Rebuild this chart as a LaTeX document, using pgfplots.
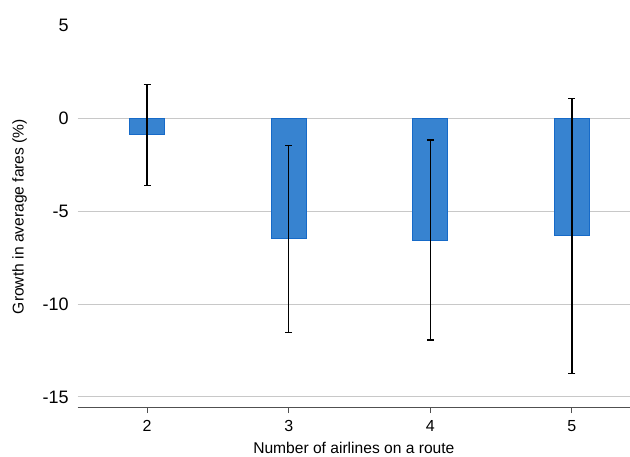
\documentclass[border=0pt]{standalone}
\usepackage{pgfplots}
\pgfplotsset{compat=1.18}
\usepackage{fontspec}
\setmainfont{Liberation Sans}
\definecolor{barfill}{RGB}{55,131,208}
\definecolor{barline}{RGB}{22,106,200}
\definecolor{gridc}{RGB}{200,200,200}
\definecolor{axc}{RGB}{80,80,80}
\begin{document}
\begin{tikzpicture}
\begin{axis}[
  scale only axis,
  width=552.3pt, height=382.4pt,
  xmin=1.51, xmax=5.41,
  ymin=-15.58, ymax=5,
  axis x line*=bottom,
  axis y line*=left,
  x axis line style={draw=axc, line width=0.9pt, -},
  y axis line style={draw=none},
  xtick={2,3,4,5},
  xticklabels={2,3,4,5},
  xtick style={draw=axc, line width=0.9pt},
  major tick length=5.5pt,
  tick align=outside,
  ytick={-15,-10,-5,0},
  yticklabels={-15,-10,-5,0},
  extra y ticks={5},
  extra y tick labels={5},
  extra y tick style={grid=none},
  ymajorgrids,
  grid style={draw=gridc, line width=1pt},
  ytick style={draw=none},
  yticklabel style={font=\fontsize{18}{20}\selectfont, text=black, xshift=0pt},
  xticklabel style={font=\fontsize{16}{18}\selectfont, text=black, yshift=-4pt},
  xlabel={Number of airlines on a route},
  ylabel={Growth in average fares (\%)},
  label style={font=\fontsize{15.6}{17}\selectfont},
  xlabel style={yshift=-3pt},
  ylabel style={yshift=-2pt},
  clip=false,
]
\addplot[ybar, bar width=35pt, fill=barfill, draw=barline, line width=0.8pt,
  error bars/.cd, y dir=both, y explicit,
  error bar style={black, line width=1.2pt},
  error mark options={black, mark size=3.5pt, line width=1.2pt, rotate=90}]
coordinates {
 (2,-0.88) += (0,2.71) -= (0,2.74)
 (3,-6.49) += (0,5.03) -= (0,5.04)
 (4,-6.55) += (0,5.38) -= (0,5.39)
 (5,-6.33) += (0,7.41) -= (0,7.41)
};
\end{axis}
\pgfresetboundingbox
\path ([xshift=-77.7pt,yshift=-48.3pt]current axis.south west) rectangle ([yshift=25.3pt]current axis.north east);
\end{tikzpicture}
\end{document}
